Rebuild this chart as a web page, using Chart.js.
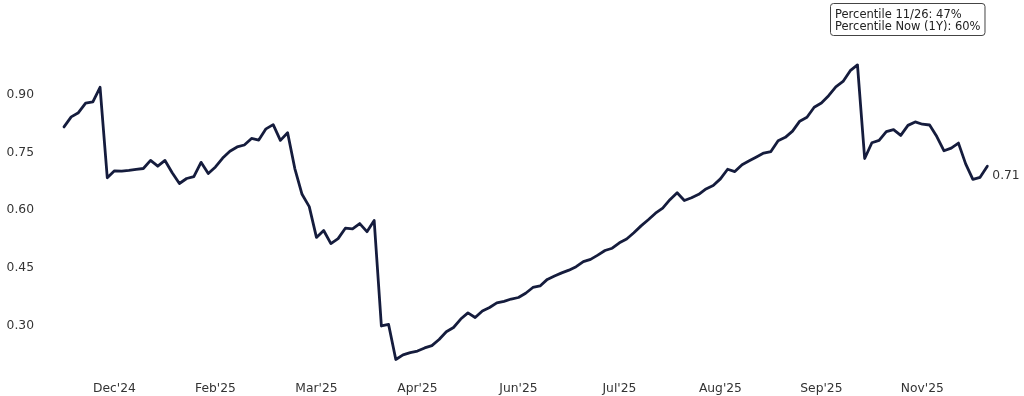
<!DOCTYPE html>
<html>
<head>
<meta charset="utf-8">
<script src="https://cdn.jsdelivr.net/npm/chart.js@4.4.1/dist/chart.umd.min.js"></script>
<style>
html,body{margin:0;padding:0;background:#fff;}
canvas{display:block;}
</style>
</head>
<body>
<canvas id="c" width="1024" height="396"></canvas>
<script>
// Percentile series (every other trading day, ~1 year)
const values = [
0.816,0.842,0.853,0.878,0.881,0.919,0.684,0.702,0.701,0.703,
0.706,0.708,0.729,0.714,0.729,0.697,0.669,0.682,0.687,0.724,
0.695,0.712,0.735,0.753,0.764,0.769,0.786,0.782,0.811,0.822,
0.781,0.801,0.708,0.641,0.609,0.529,0.547,0.513,0.526,0.553,
0.551,0.565,0.544,0.573,0.299,0.303,0.212,0.224,0.230,0.234,
0.242,0.248,0.264,0.284,0.295,0.317,0.333,0.321,0.338,0.347,
0.359,0.363,0.369,0.373,0.384,0.399,0.403,0.420,0.429,0.437,
0.444,0.453,0.466,0.472,0.483,0.495,0.501,0.515,0.525,0.541,
0.559,0.575,0.592,0.605,0.627,0.645,0.625,0.632,0.641,0.655,
0.664,0.681,0.706,0.700,0.718,0.728,0.738,0.748,0.752,0.780,
0.789,0.805,0.831,0.841,0.867,0.878,0.897,0.920,0.934,0.962,
0.977,0.734,0.775,0.781,0.804,0.809,0.794,0.820,0.829,0.823,
0.821,0.791,0.754,0.761,0.774,0.720,0.680,0.685,0.714
];
const tickIndices = [7,21,35,49,63,77,91,105,119];
const tickLabels = ["Dec'24","Feb'25","Mar'25","Apr'25","Jun'25","Jul'25","Aug'25","Sep'25","Nov'25"];
const yTicks = [0.30,0.45,0.60,0.75,0.90];
const annotationLines = ["Percentile 11/26: 47%","Percentile Now (1Y): 60%"];

const FONT = "'DejaVu Sans', sans-serif";
const TEXT = '#333333';
const LINE = '#151c3d';

const overlay = {
  id: 'overlay',
  afterDatasetsDraw(chart) {
    const ctx = chart.ctx;
    const meta = chart.getDatasetMeta(0);
    const last = meta.data[meta.data.length - 1];
    const lastVal = values[values.length - 1];
    ctx.save();
    // end label
    ctx.font = "12.3px " + FONT;
    ctx.fillStyle = TEXT;
    ctx.textAlign = 'left';
    ctx.textBaseline = 'middle';
    ctx.fillText((Math.floor(lastVal * 100) / 100).toFixed(2), last.x + 5, last.y + 10);
    // annotation box
    ctx.font = "11.5px " + FONT;
    const w = Math.max(...annotationLines.map(t => ctx.measureText(t).width));
    const bx = 830.5, by = 3.5, bw = w + 9, bh = 32;
    ctx.beginPath();
    if (ctx.roundRect) ctx.roundRect(bx, by, bw, bh, 3); else ctx.rect(bx, by, bw, bh);
    ctx.fillStyle = '#ffffff';
    ctx.fill();
    ctx.lineWidth = 1;
    ctx.strokeStyle = '#444444';
    ctx.stroke();
    ctx.fillStyle = '#222222';
    ctx.textBaseline = 'alphabetic';
    ctx.fillText(annotationLines[0], bx + 4.5, 18.3);
    ctx.fillText(annotationLines[1], bx + 4.5, 30.3);
    ctx.restore();
  }
};

new Chart(document.getElementById('c'), {
  type: 'line',
  data: {
    datasets: [{
      data: values.map((v, i) => ({x: i, y: v})),
      borderColor: LINE,
      borderWidth: 2.8,
      pointRadius: 0,
      tension: 0,
      fill: false,
      borderJoinStyle: 'round',
      borderCapStyle: 'round'
    }]
  },
  options: {
    responsive: false,
    animation: false,
    devicePixelRatio: 1,
    layout: {padding: 0},
    plugins: {legend: {display: false}, tooltip: {enabled: false}},
    scales: {
      x: {
        type: 'linear',
        min: -2.772,
        max: 133.087,
        grid: {display: false, drawTicks: false},
        border: {display: false},
        afterBuildTicks(scale) { scale.ticks = tickIndices.map(v => ({value: v})); },
        afterFit(scale) { scale.height = 26; },
        ticks: {
          autoSkip: false,
          maxRotation: 0,
          padding: 11,
          color: TEXT,
          font: {family: FONT, size: 12.3},
          callback(v) { const k = tickIndices.indexOf(v); return k >= 0 ? tickLabels[k] : ''; }
        }
      },
      y: {
        min: 0.1847,
        max: 1.1005,
        grid: {display: false, drawTicks: false},
        border: {display: false},
        afterBuildTicks(scale) { scale.ticks = yTicks.map(v => ({value: v})); },
        afterFit(scale) { scale.width = 44; },
        ticks: {
          padding: 10,
          color: TEXT,
          font: {family: FONT, size: 12.3},
          callback(v) { return Number(v).toFixed(2); }
        }
      }
    }
  },
  plugins: [overlay]
});
</script>
</body>
</html>
